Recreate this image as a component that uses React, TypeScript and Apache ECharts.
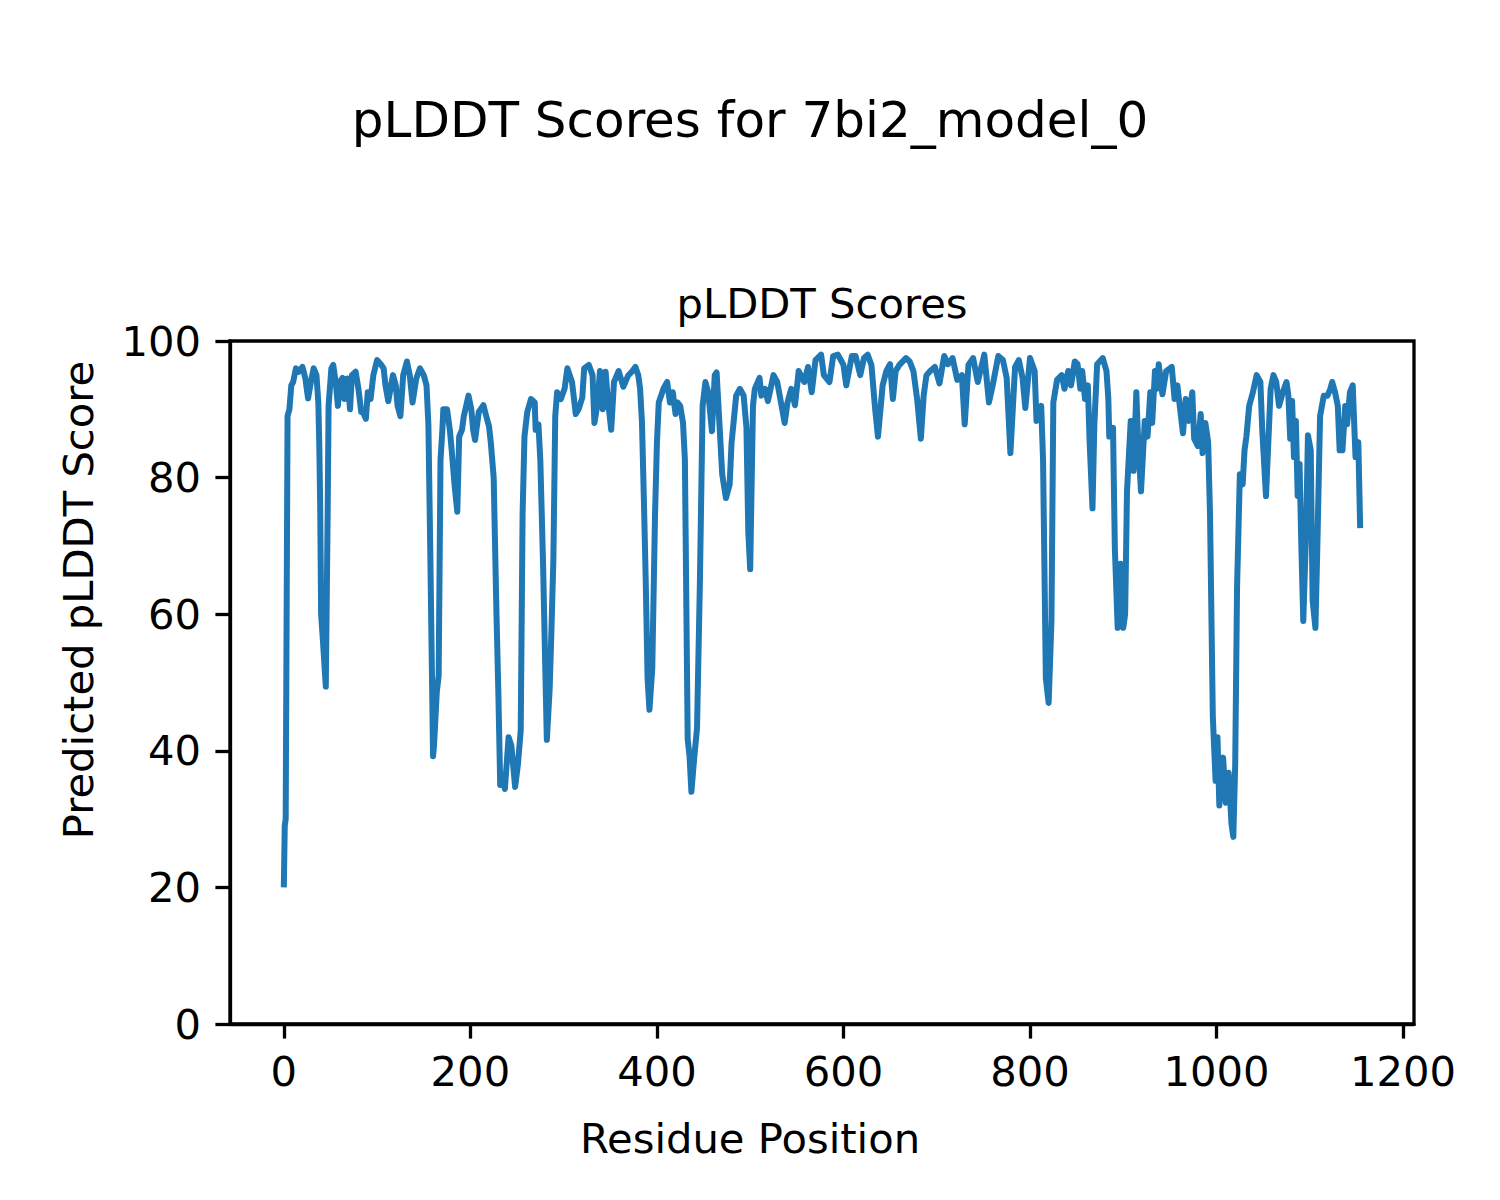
import React, { useEffect, useRef } from 'react';
import * as echarts from 'echarts';

const residues = [
  0, 1, 2, 4, 6, 8, 10, 13, 16, 20, 23, 26, 29, 32, 35, 37, 38, 39, 40, 42, 45, 47, 48, 51, 53, 56, 58, 60, 63, 65,
  68, 71, 73, 77, 80, 83, 85, 88, 90, 93, 96, 100, 104, 107, 109, 112, 117, 120, 122, 125, 128, 132, 135, 138, 142, 146, 150, 153, 155, 157,
  160, 161, 164, 166, 168, 170, 171, 175, 178, 180, 183, 186, 188, 191, 193, 198, 201, 203, 205, 209, 214, 217, 220, 222, 225, 228, 230, 232, 235, 237,
  241, 244, 248, 251, 254, 256, 258, 261, 265, 269, 270, 273, 275, 278, 282, 285, 287, 289, 291, 293, 297, 301, 304, 309, 313, 316, 320, 322, 327, 331,
  333, 336, 339, 342, 345, 347, 351, 354, 359, 364, 369, 373, 377, 380, 382, 384, 386, 388, 390, 392, 395, 398, 400, 402, 407, 411, 414, 417, 420, 422,
  425, 428, 430, 433, 435, 437, 440, 443, 446, 449, 452, 455, 459, 462, 464, 467, 470, 474, 478, 480, 482, 485, 489, 493, 496, 498, 500, 503, 505, 510,
  512, 516, 519, 525, 529, 533, 537, 540, 544, 548, 552, 558, 562, 566, 570, 576, 579, 585, 589, 594, 600, 603, 609, 613, 618, 622, 626, 630, 634, 637,
  639, 642, 646, 650, 653, 656, 660, 667, 671, 675, 679, 683, 686, 689, 693, 698, 703, 708, 712, 717, 722, 727, 730, 734, 739, 744, 751, 756, 760, 766,
  771, 775, 779, 784, 788, 792, 795, 800, 805, 807, 812, 814, 817, 820, 823, 825, 829, 834, 837, 841, 844, 848, 851, 854, 856, 859, 862, 864, 867, 869,
  872, 878, 882, 884, 885, 889, 891, 894, 897, 900, 902, 904, 908, 911, 914, 916, 919, 923, 926, 929, 931, 934, 936, 938, 942, 946, 952, 955, 958, 961,
  964, 967, 970, 974, 976, 980, 983, 985, 988, 991, 993, 996, 999, 1001, 1003, 1007, 1010, 1013, 1016, 1018, 1020, 1022, 1025, 1028, 1030, 1032, 1035, 1039, 1043, 1047,
  1049, 1053, 1058, 1061, 1064, 1067, 1071, 1075, 1077, 1079, 1081, 1083, 1085, 1087, 1089, 1091, 1093, 1096, 1098, 1101, 1103, 1106, 1108, 1111, 1115, 1119, 1122, 1124, 1127, 1130,
  1132, 1135, 1138, 1140, 1143, 1146, 1149, 1152, 1154,
];

const scores = [
  20, 29, 30, 89, 90, 93.5, 94, 96, 95.5, 96.2, 94.6, 91.6, 94, 96, 95, 91, 85, 76, 60, 56, 49.4, 74.7, 90.5, 96, 96.5, 93.5, 90.5, 94, 94.6, 91.5,
  94.5, 90, 95, 95.5, 93, 89.6, 89.5, 88.6, 92.5, 91.5, 95, 97.2, 96.6, 96, 93.5, 91.2, 95, 93.5, 90.5, 89, 95, 97, 95, 91, 94.5, 96, 95, 93.5, 87.8, 69.5,
  39.2, 40.7, 48.6, 51, 82.6, 87, 90, 90, 87, 84, 79, 75, 86, 87, 89, 92, 90, 87, 85.5, 89.6, 90.6, 89, 87.5, 85, 80, 60, 48.6, 35, 36, 34.4,
  42, 40.7, 34.7, 38, 43, 74.7, 86, 89.6, 91.5, 91, 87, 87.8, 82.6, 67, 41.6, 49, 58, 68, 89, 92.5, 91.5, 93, 96, 94, 89.3, 90, 91.7, 96, 96.5, 95,
  88, 90.5, 95.6, 90, 95.5, 92, 87, 94, 95.6, 93.3, 94.9, 95.5, 96.2, 95, 93, 88, 77, 65, 50.6, 46, 52, 74.7, 85, 91, 93, 94, 91, 92.5, 89.3, 91,
  90.5, 88, 82.6, 41.7, 39.2, 34, 39, 43.3, 64, 90.5, 94, 92.5, 86.8, 95, 95.4, 88, 80.5, 77, 79, 85, 87.8, 92, 93, 92, 87.3, 72, 66.6, 90.5, 93, 94.6,
  92, 93, 91.2, 95, 94, 91, 88, 91, 93, 90.6, 95.6, 94, 96.2, 92.5, 97.2, 98, 95, 94, 97.8, 98, 96.5, 93.5, 97.8, 97.8, 95, 97.5, 98, 96.5, 90, 86,
  89, 93.5, 95.6, 96.6, 91.5, 95.6, 96.5, 97.5, 97, 95.6, 91.5, 85.7, 92, 95, 95.6, 96.2, 93.8, 97.8, 96.6, 97.5, 94.3, 95, 87.8, 96.5, 97.5, 94, 98, 91, 93.5, 97.8,
  97.2, 94.6, 83.6, 96.2, 97.2, 94.6, 90.2, 97.5, 95.6, 88.3, 90.5, 82.6, 50.6, 47, 59, 91, 94.3, 95, 93, 95.6, 93.5, 97, 96.6, 93, 95.6, 91.5, 93.5, 85, 75.5, 87.8,
  96.6, 97.5, 95.6, 91.5, 86, 87.3, 69.5, 58, 67.4, 58, 60, 78, 88.3, 81, 92.5, 85, 78, 88.3, 86, 92.5, 88, 95.6, 93, 96.6, 92.2, 95.6, 96.2, 91.5, 93.5, 90,
  86.5, 91.5, 88.3, 92.5, 85.7, 84.6, 89.3, 83.6, 88, 85.2, 74.7, 45, 35.6, 42, 32, 39, 32.4, 36.8, 29.3, 27.4, 38, 64, 80.5, 79, 84, 86, 90.5, 92.5, 95, 94,
  87, 77.3, 93, 95, 94, 90.5, 92.5, 94, 92, 85.7, 91.2, 83, 88.3, 77.3, 82, 69.5, 59, 72, 86.2, 84, 62, 58, 69.5, 89, 92, 92, 93, 94, 92.5, 90.5,
  84, 84, 90.5, 87.8, 92.5, 93.5, 83, 85.2, 72.6,
];

const xTickValues = [0, 200, 400, 600, 800, 1000, 1200];
const yTickValues = [0, 20, 40, 60, 80, 100];

const figureTitle = 'pLDDT Scores for 7bi2_model_0';
const axesTitle = 'pLDDT Scores';
const xLabel = 'Residue Position';
const yLabel = 'Predicted pLDDT Score';

const FONT = 'DejaVu Sans';

export default function App() {
  const ref = useRef<HTMLDivElement>(null);
  useEffect(() => {
    const chart = echarts.init(ref.current as HTMLDivElement, null, { renderer: 'svg' });
    const data = residues.map((r, i) => [r, scores[i]]);
    chart.setOption({
      animation: false,
      backgroundColor: '#ffffff',
      grid: {
        left: 230,
        top: 341,
        width: 1184,
        height: 683,
        show: true,
        borderColor: '#000000',
        borderWidth: 3.3,
        backgroundColor: 'transparent',
      },
      xAxis: {
        type: 'value',
        min: -57.7,
        max: 1211.7,
        axisLine: { show: true, onZero: false, lineStyle: { color: '#000', width: 3.3 } },
        axisTick: { show: true, length: 14.6, lineStyle: { color: '#000', width: 3.3 }, customValues: xTickValues },
        axisLabel: {
          customValues: xTickValues,
          margin: 26,
          fontSize: 41.7,
          color: '#000',
          fontFamily: FONT,
          formatter: (v: number) => String(v),
        },
        splitLine: { show: false },
      },
      yAxis: {
        type: 'value',
        min: 0,
        max: 100,
        interval: 20,
        axisLine: { show: true, onZero: false, lineStyle: { color: '#000', width: 3.3 } },
        axisTick: { show: true, length: 14.6, lineStyle: { color: '#000', width: 3.3 }, customValues: yTickValues },
        axisLabel: {
          customValues: yTickValues,
          margin: 29,
          fontSize: 41.7,
          color: '#000',
          fontFamily: FONT,
          formatter: (v: number) => String(v),
        },
        splitLine: { show: false },
      },
      graphic: [
        {
          type: 'text',
          x: 750,
          y: 120,
          style: { text: figureTitle, fontSize: 50, fontFamily: FONT, fill: '#000', align: 'center', verticalAlign: 'middle' },
        },
        {
          type: 'text',
          x: 822,
          y: 303,
          style: { text: axesTitle, fontSize: 41.7, fontFamily: FONT, fill: '#000', align: 'center', verticalAlign: 'middle' },
        },
        {
          type: 'text',
          x: 750,
          y: 1138,
          style: { text: xLabel, fontSize: 41.7, fontFamily: FONT, fill: '#000', align: 'center', verticalAlign: 'middle' },
        },
        {
          type: 'text',
          x: 78,
          y: 600,
          rotation: Math.PI / 2,
          style: { text: yLabel, fontSize: 41.7, fontFamily: FONT, fill: '#000', align: 'center', verticalAlign: 'middle' },
        },
      ],
      series: [
        {
          type: 'line',
          data,
          showSymbol: false,
          symbol: 'none',
          clip: true,
          lineStyle: { color: '#1f77b4', width: 6, join: 'round' },
          emphasis: { disabled: true },
        },
      ],
    });
    return () => chart.dispose();
  }, []);
  return <div ref={ref} style={{ position: 'absolute', left: 0, top: 0, width: 1500, height: 1200 }} />;
}
